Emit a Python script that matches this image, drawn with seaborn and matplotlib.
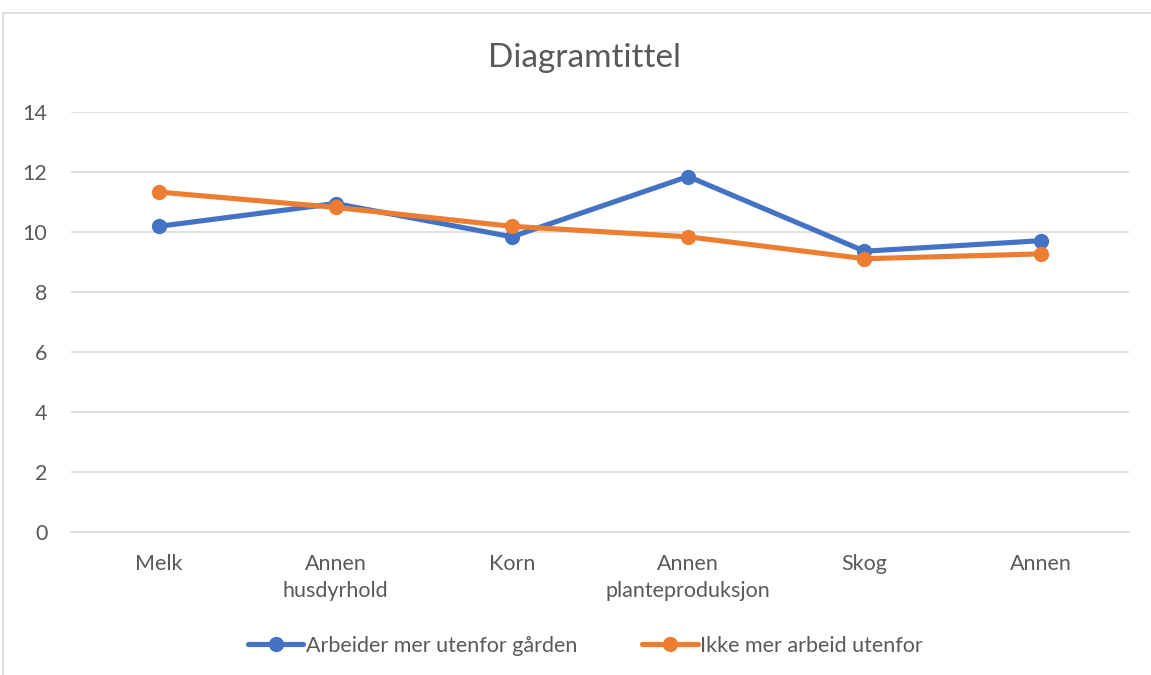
import pandas as pd
import matplotlib.pyplot as plt
import seaborn as sns
from matplotlib.patches import Rectangle

# data
kategorier = ["Melk", "Annen\nhusdyrhold", "Korn", "Annen\nplanteproduksjon", "Skog", "Annen"]
arbeider_mer = [10.19, 10.95, 9.84, 11.85, 9.36, 9.71]
ikke_mer = [11.33, 10.82, 10.19, 9.84, 9.11, 9.27]
serier = ["Arbeider mer utenfor gården", "Ikke mer arbeid utenfor"]
yticks = [0, 2, 4, 6, 8, 10, 12, 14]

df = pd.DataFrame({
    "kategori": kategorier * 2,
    "verdi": arbeider_mer + ikke_mer,
    "serie": [serier[0]] * len(kategorier) + [serier[1]] * len(kategorier),
})

sns.set_style("white")
plt.rcParams['font.family'] = ['Lato', 'DejaVu Sans']
grey = "#595959"

fig = plt.figure(figsize=(11.51, 6.75), dpi=100)
ax = fig.add_axes([71 / 1151, 143 / 675, 1058 / 1151, 420 / 675])

sns.lineplot(data=df, x="kategori", y="verdi", hue="serie", sort=False,
             palette=["#4472C4", "#ED7D31"], linewidth=3.7, marker="o",
             markersize=11, markeredgewidth=0, ax=ax)

ax.set_xlim(-0.5, 5.5)
ax.set_ylim(0, 14)
ax.set_yticks(yticks)
ax.set_yticklabels([str(v) for v in yticks], color=grey, fontsize=15.5)
ax.set_xticks(range(len(kategorier)))
ax.set_xticklabels(kategorier, color=grey, fontsize=15.5, linespacing=1.45)
ax.tick_params(axis="both", length=0)
ax.tick_params(axis="y", pad=17)
ax.tick_params(axis="x", pad=16)
ax.grid(axis="y", color="#D9D9D9", linewidth=1.1)
for s in ["top", "right", "left"]:
    ax.spines[s].set_visible(False)
ax.spines["bottom"].set_color("#D9D9D9")
ax.spines["bottom"].set_linewidth(1.1)
ax.set_xlabel("")
ax.set_ylabel("")

fig.text(0.508, 1 - 58 / 675, "Diagramtittel", ha="center", va="center",
         fontsize=24, color=grey)

handles, labels = ax.get_legend_handles_labels()
ax.legend(handles, labels, loc="center", bbox_to_anchor=(585 / 1151, 1 - 646 / 675),
          bbox_transform=fig.transFigure, ncol=2, frameon=False, fontsize=15.5,
          labelcolor=grey, handlelength=2.6, handletextpad=0.1, columnspacing=3.0)

# chart border
fig.patches.append(Rectangle((3 / 1151, -0.05), 1.1, 1 - 13 / 675 + 0.05,
                             transform=fig.transFigure, fill=False,
                             edgecolor="#D9D9D9", linewidth=1.2))

plt.savefig("out.png", dpi=100)
